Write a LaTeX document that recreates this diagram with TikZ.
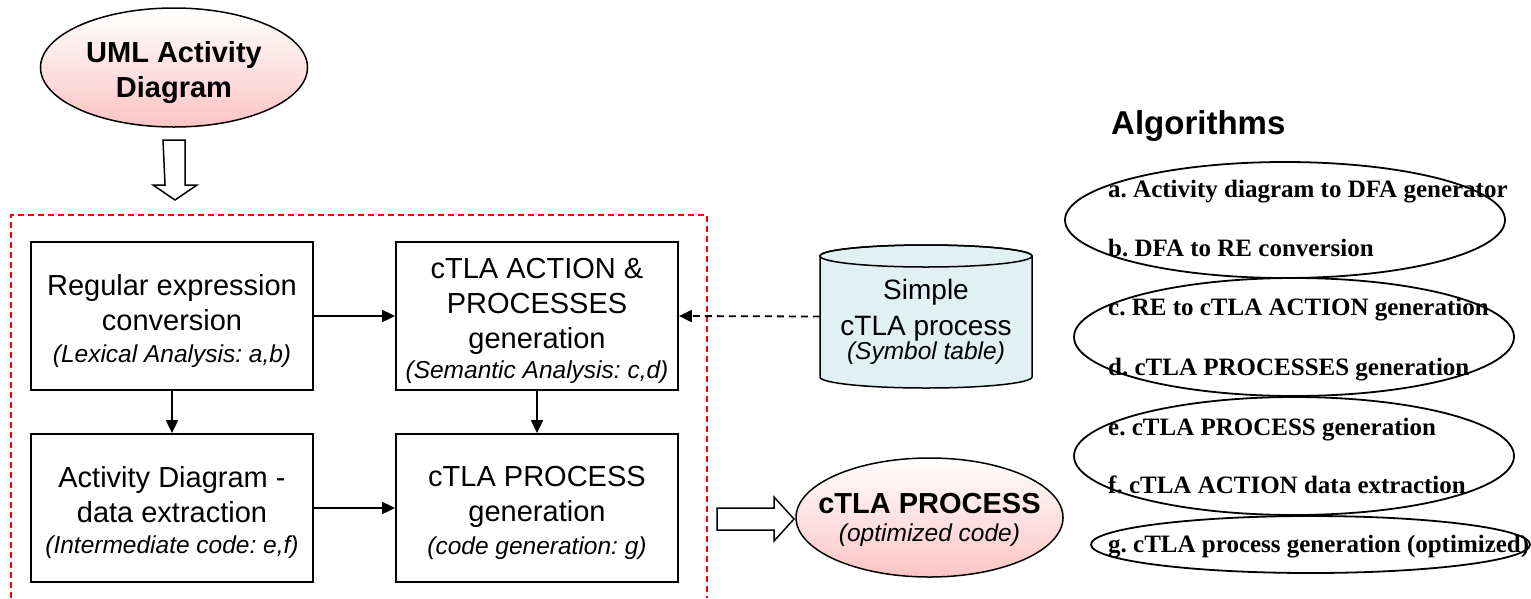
\documentclass[tikz,border=0pt]{standalone}
\usepackage{fontspec}
\setmainfont{Liberation Sans}
\newfontfamily\algfont{Liberation Serif}
\usetikzlibrary{arrows.meta,shapes.geometric}
\definecolor{pinkb}{RGB}{252,196,196}
\definecolor{cylfill}{RGB}{225,240,242}
\definecolor{framered}{RGB}{255,0,0}
\newcommand{\subline}[1]{{\fontsize{24.5}{30}\selectfont\itshape #1}}
\frenchspacing

\begin{document}
\begin{tikzpicture}[x=1pt,y=-1pt,
  stagebox/.style={draw, line width=1.8pt, minimum width=282pt, minimum height=148pt,
    inner sep=0pt},
  stagetext/.style={align=center, inner sep=0pt, font=\fontsize{29}{35}\selectfont},
  flow/.style={line width=1.8pt, -{Triangle[length=13pt,width=12pt]}},
  pinkell/.style={ellipse, draw, line width=1.5pt, top color=white, bottom color=pinkb,
    inner sep=0pt, minimum width=267pt, minimum height=119pt},
  algell/.style={ellipse, draw, line width=1.8pt, inner sep=0pt},
  algtext/.style={anchor=base west, inner sep=0pt, font=\algfont\bfseries\fontsize{25}{30}\selectfont},
  hollow/.style={draw, line width=1.5pt, fill=white, line join=miter},
  boldlabel/.style={align=center, inner sep=0pt, font=\bfseries\fontsize{29}{35}\selectfont}
]
\useasboundingbox (0,0) rectangle (1531,598);

% source model
\node[pinkell] (uml) at (174,67.5) {};
\node[boldlabel] (umltext) at (174,73) {UML Activity\\Diagram};

% hollow arrow into the translator
\coordinate (downS) at (174,140);
\draw[hollow] (downS) ++(-11,0) -- ++(22,0) -- ++(0,45) -- ++(12,0) -- ++(-22,15)
  -- ++(-22,-15) -- ++(12,0) -- cycle;

% translator frame (open at the bottom)
\draw[framered, line width=1.6pt, dash pattern=on 6pt off 4pt]
  (11,598) -- (11,215) -- (707,215) -- (707,598);

% translation stages
\node[stagebox] (b1) at (172,316) {};
\node[stagebox] (b2) at (537,316) {};
\node[stagebox] (b3) at (172,508) {};
\node[stagebox] (b4) at (537,508) {};
\node[stagetext] (t1) at (172,321) {Regular expression\\conversion\\[-3pt]\subline{(Lexical Analysis: a,b)}};
\node[stagetext] (t2) at (537,321) {cTLA ACTION \&\\PROCESSES\\generation\\[-5pt]\subline{(Semantic Analysis: c,d)}};
\node[stagetext] (t3) at (172,513) {Activity Diagram -\\data extraction\\[-4pt]\subline{(Intermediate code: e,f)}};
\node[stagetext] (t4) at (537,513) {cTLA PROCESS\\generation\\[-2pt]\subline{(code generation: g)}};

\draw[flow] (b1.east) -- (b2.west);
\draw[flow] (b3.east) -- (b4.west);
\draw[flow] (b1.south) -- (b3.north);
\draw[flow] (b2.south) -- (b4.north);

% symbol table store
\node[minimum width=212pt, minimum height=143pt, inner sep=0pt] (cyl) at (926,316.5) {};
\filldraw[line width=1.5pt, fill=cylfill] (820,256) -- (820,377)
  arc[start angle=180, end angle=0, x radius=106, y radius=11] -- (1032,256)
  arc[start angle=0, end angle=-180, x radius=106, y radius=11] -- cycle;
\draw[line width=1.5pt] (926,256) ellipse [x radius=106, y radius=11];
\node[align=center, inner sep=0pt, font=\fontsize{28}{36}\selectfont] (cyltext) at (926,322)
  {Simple\\cTLA process\\[-12pt]\subline{(Symbol table)}};
\draw[line width=1.8pt, dash pattern=on 7pt off 5pt, -{Triangle[length=13pt,width=12pt]}]
  (cyl.west) -- (b2.east);

% result
\coordinate (rightS) at (717,508);
\draw[hollow] (rightS) -- ++(57,0) -- ++(0,-11) -- ++(20,22) -- ++(-20,22) -- ++(0,-11)
  -- ++(-57,0) -- cycle;
\node[pinkell] (out) at (929.5,517.5) {};
\node[boldlabel] (outtext) at (929.5,520)
  {cTLA PROCESS\\[-7pt]{\mdseries\subline{(optimized code)}}};

% algorithm list
\node[anchor=base west, inner sep=0pt, font=\bfseries\fontsize{33}{40}\selectfont]
  (algtitle) at (1111,134) {Algorithms};
\node[algell, minimum width=440pt, minimum height=116pt] (ab) at (1285,220) {};
\node[algell, minimum width=440pt, minimum height=118pt] (cd) at (1294,337) {};
\node[algell, minimum width=440pt, minimum height=118pt] (ef) at (1294,456) {};
\node[algell, minimum width=439pt, minimum height=57pt] (g) at (1310.5,544.5) {};
\node[algtext] (ta) at (1108,197) {a. Activity diagram to DFA generator};
\node[algtext] (tb) at (1108,256) {b. DFA to RE conversion};
\node[algtext] (tc) at (1108,315) {c. RE to cTLA ACTION generation};
\node[algtext] (td) at (1108,375) {d. cTLA PROCESSES generation};
\node[algtext] (te) at (1108,435) {e. cTLA PROCESS generation};
\node[algtext] (tf) at (1108,493) {f. cTLA ACTION data extraction};
\node[algtext] (tg) at (1108,552) {g. cTLA process generation (optimized)};
\end{tikzpicture}
\end{document}
